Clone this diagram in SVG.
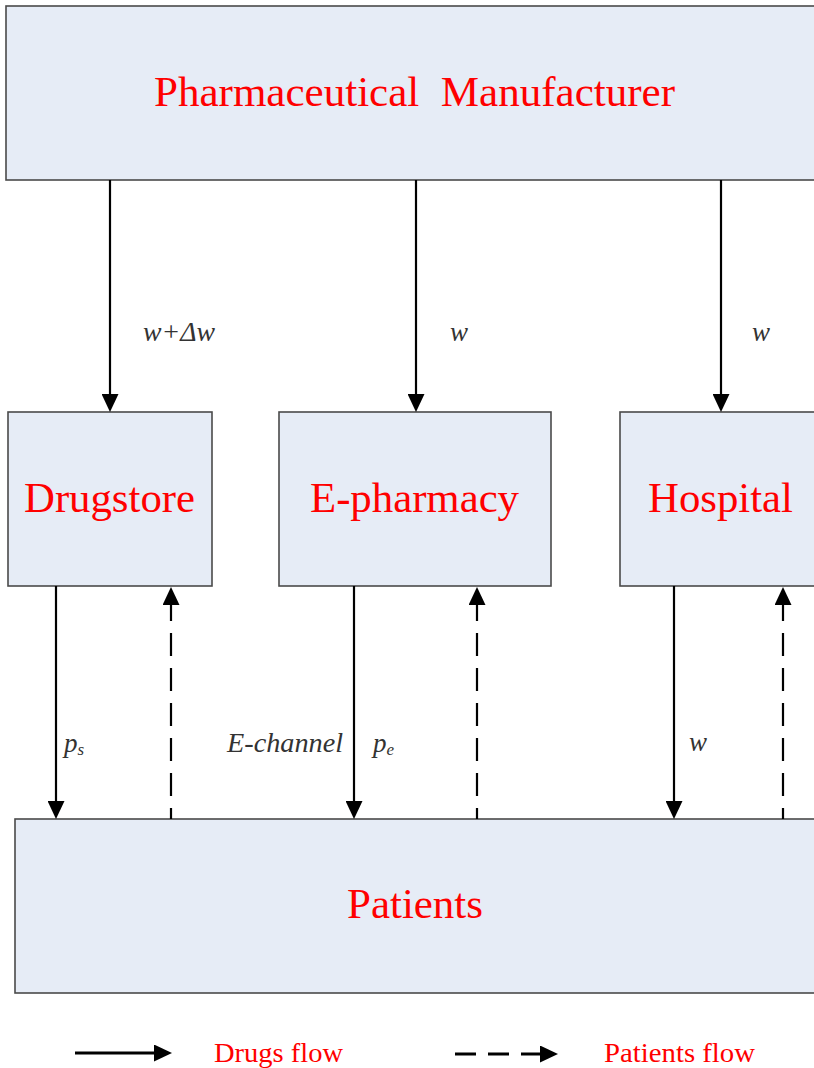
<svg xmlns="http://www.w3.org/2000/svg" width="814" height="1068" viewBox="0 0 814 1068">
<style>
.box{fill:#e6ecf6;stroke:#4a4a4a;stroke-width:1.6}
.name{font-family:"Liberation Serif","Times New Roman",serif;font-size:43px;fill:#ff0000}
.leg{font-family:"Liberation Serif","Times New Roman",serif;font-size:27px;fill:#ff0000}
.lab{font-family:"Liberation Serif","Times New Roman",serif;font-style:italic;font-size:27px;fill:#333333}
.sub{font-size:17px}
.flow{fill:none;stroke:#000;stroke-width:2.2}
.legline{fill:none;stroke:#000;stroke-width:3}
.dash{stroke-dasharray:23 12;stroke-dashoffset:12}
</style>
<defs>
<marker id="ah" markerUnits="userSpaceOnUse" viewBox="0 0 18 17" markerWidth="18" markerHeight="17" refX="10" refY="8.5" orient="auto">
<path d="M0,0 L18,8.5 L0,17 Z" fill="#000"/>
</marker>
</defs>
<g id="manufacturer">
<rect class="box" x="6" y="6" width="814" height="174"/>
<text class="name" x="154" y="106" xml:space="preserve" textLength="521" lengthAdjust="spacingAndGlyphs">Pharmaceutical  Manufacturer</text>
</g>
<g id="drugstore">
<rect class="box" x="8" y="412" width="204" height="174"/>
<text class="name" x="24" y="512" textLength="171" lengthAdjust="spacingAndGlyphs">Drugstore</text>
</g>
<g id="epharmacy">
<rect class="box" x="279" y="412" width="272" height="174"/>
<text class="name" x="310" y="512" textLength="209" lengthAdjust="spacingAndGlyphs">E-pharmacy</text>
</g>
<g id="hospital">
<rect class="box" x="620" y="412" width="200" height="174"/>
<text class="name" x="648" y="512" textLength="145" lengthAdjust="spacingAndGlyphs">Hospital</text>
</g>
<g id="patients">
<rect class="box" x="15" y="819" width="805" height="174"/>
<text class="name" x="347" y="918" textLength="136" lengthAdjust="spacingAndGlyphs">Patients</text>
</g>
<g id="connectors">
<path class="flow" d="M110,180 V404" marker-end="url(#ah)"/>
<path class="flow" d="M416,180 V404" marker-end="url(#ah)"/>
<path class="flow" d="M721,180 V404" marker-end="url(#ah)"/>
<path class="flow" d="M56,586 V811" marker-end="url(#ah)"/>
<path class="flow" d="M354,586 V811" marker-end="url(#ah)"/>
<path class="flow" d="M674,586 V811" marker-end="url(#ah)"/>
<path class="flow dash" d="M171,819 V595" marker-end="url(#ah)"/>
<path class="flow dash" d="M477,819 V595" marker-end="url(#ah)"/>
<path class="flow dash" d="M783,819 V595" marker-end="url(#ah)"/>
<text class="lab" x="143" y="341" textLength="72" lengthAdjust="spacingAndGlyphs">w+Δw</text>
<text class="lab" x="450" y="341">w</text>
<text class="lab" x="752" y="341">w</text>
<text class="lab" x="64" y="752">p<tspan class="sub" dy="3">s</tspan></text>
<text class="lab" x="227" y="752" textLength="116" lengthAdjust="spacingAndGlyphs">E-channel</text>
<text class="lab" x="373" y="752">p<tspan class="sub" dy="3">e</tspan></text>
<text class="lab" x="689" y="751">w</text>
</g>
<g id="legend">
<path class="legline" d="M75,1053 H164" marker-end="url(#ah)"/>
<text class="leg" x="214" y="1062" textLength="129" lengthAdjust="spacingAndGlyphs">Drugs flow</text>
<path class="legline" d="M455,1054 H550" stroke-dasharray="21 12" marker-end="url(#ah)"/>
<text class="leg" x="604" y="1062" textLength="151" lengthAdjust="spacingAndGlyphs">Patients flow</text>
</g>
</svg>
